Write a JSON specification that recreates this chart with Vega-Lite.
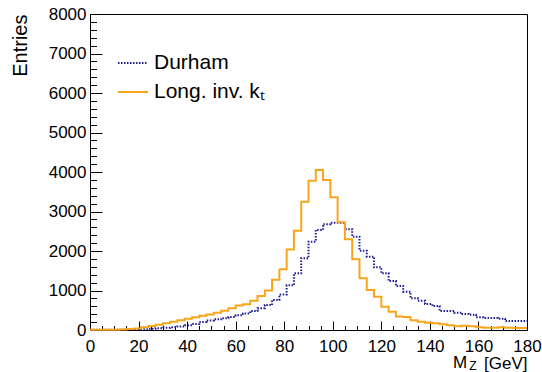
{
  "$schema": "https://vega.github.io/schema/vega-lite/v6.json",
  "width": 437,
  "height": 316,
  "autosize": {"type": "none"},
  "padding": {"left": 90, "top": 14, "right": 15, "bottom": 42},
  "background": "white",
  "config": {
    "font": "Liberation Sans",
    "view": {"stroke": "black", "strokeWidth": 1},
    "axis": {"domainColor": "black", "tickColor": "black", "labelColor": "black", "titleColor": "black", "grid": false, "labelFont": "Liberation Sans", "titleFont": "Liberation Sans", "titleFontWeight": "normal"}
  },
  "datasets": {
    "h": [
      {"m": 0, "v": 5, "s": "Durham"}, {"m": 3, "v": 5, "s": "Durham"}, {"m": 6, "v": 5, "s": "Durham"}, {"m": 9, "v": 5, "s": "Durham"},
      {"m": 12, "v": 8, "s": "Durham"}, {"m": 15, "v": 10, "s": "Durham"}, {"m": 18, "v": 15, "s": "Durham"}, {"m": 21, "v": 20, "s": "Durham"},
      {"m": 24, "v": 30, "s": "Durham"}, {"m": 27, "v": 45, "s": "Durham"}, {"m": 30, "v": 60, "s": "Durham"}, {"m": 33, "v": 70, "s": "Durham"},
      {"m": 36, "v": 90, "s": "Durham"}, {"m": 39, "v": 120, "s": "Durham"}, {"m": 42, "v": 150, "s": "Durham"}, {"m": 45, "v": 200, "s": "Durham"},
      {"m": 48, "v": 240, "s": "Durham"}, {"m": 51, "v": 270, "s": "Durham"}, {"m": 54, "v": 300, "s": "Durham"}, {"m": 57, "v": 330, "s": "Durham"},
      {"m": 60, "v": 375, "s": "Durham"}, {"m": 63, "v": 420, "s": "Durham"}, {"m": 66, "v": 480, "s": "Durham"}, {"m": 69, "v": 550, "s": "Durham"},
      {"m": 72, "v": 630, "s": "Durham"}, {"m": 75, "v": 760, "s": "Durham"}, {"m": 78, "v": 900, "s": "Durham"}, {"m": 81, "v": 1130, "s": "Durham"},
      {"m": 84, "v": 1435, "s": "Durham"}, {"m": 87, "v": 1815, "s": "Durham"}, {"m": 90, "v": 2236, "s": "Durham"}, {"m": 93, "v": 2532, "s": "Durham"},
      {"m": 96, "v": 2680, "s": "Durham"}, {"m": 99, "v": 2717, "s": "Durham"}, {"m": 102, "v": 2717, "s": "Durham"}, {"m": 105, "v": 2549, "s": "Durham"},
      {"m": 108, "v": 2363, "s": "Durham"}, {"m": 111, "v": 2008, "s": "Durham"}, {"m": 114, "v": 1857, "s": "Durham"}, {"m": 117, "v": 1586, "s": "Durham"},
      {"m": 120, "v": 1435, "s": "Durham"}, {"m": 123, "v": 1240, "s": "Durham"}, {"m": 126, "v": 1114, "s": "Durham"}, {"m": 129, "v": 970, "s": "Durham"},
      {"m": 132, "v": 802, "s": "Durham"}, {"m": 135, "v": 742, "s": "Durham"}, {"m": 138, "v": 658, "s": "Durham"}, {"m": 141, "v": 608, "s": "Durham"},
      {"m": 144, "v": 481, "s": "Durham"}, {"m": 147, "v": 481, "s": "Durham"}, {"m": 150, "v": 439, "s": "Durham"}, {"m": 153, "v": 405, "s": "Durham"},
      {"m": 156, "v": 388, "s": "Durham"}, {"m": 159, "v": 321, "s": "Durham"}, {"m": 162, "v": 304, "s": "Durham"}, {"m": 165, "v": 304, "s": "Durham"},
      {"m": 168, "v": 287, "s": "Durham"}, {"m": 171, "v": 228, "s": "Durham"}, {"m": 174, "v": 228, "s": "Durham"}, {"m": 177, "v": 228, "s": "Durham"},
      {"m": 180, "v": 228, "s": "Durham"},
      {"m": 0, "v": 5, "s": "Long. inv. kₜ"}, {"m": 3, "v": 5, "s": "Long. inv. kₜ"}, {"m": 6, "v": 5, "s": "Long. inv. kₜ"}, {"m": 9, "v": 8, "s": "Long. inv. kₜ"},
      {"m": 12, "v": 10, "s": "Long. inv. kₜ"}, {"m": 15, "v": 25, "s": "Long. inv. kₜ"}, {"m": 18, "v": 40, "s": "Long. inv. kₜ"}, {"m": 21, "v": 70, "s": "Long. inv. kₜ"},
      {"m": 24, "v": 100, "s": "Long. inv. kₜ"}, {"m": 27, "v": 130, "s": "Long. inv. kₜ"}, {"m": 30, "v": 170, "s": "Long. inv. kₜ"}, {"m": 33, "v": 210, "s": "Long. inv. kₜ"},
      {"m": 36, "v": 245, "s": "Long. inv. kₜ"}, {"m": 39, "v": 285, "s": "Long. inv. kₜ"}, {"m": 42, "v": 325, "s": "Long. inv. kₜ"}, {"m": 45, "v": 360, "s": "Long. inv. kₜ"},
      {"m": 48, "v": 390, "s": "Long. inv. kₜ"}, {"m": 51, "v": 435, "s": "Long. inv. kₜ"}, {"m": 54, "v": 490, "s": "Long. inv. kₜ"}, {"m": 57, "v": 550, "s": "Long. inv. kₜ"},
      {"m": 60, "v": 620, "s": "Long. inv. kₜ"}, {"m": 63, "v": 650, "s": "Long. inv. kₜ"}, {"m": 66, "v": 740, "s": "Long. inv. kₜ"}, {"m": 69, "v": 860, "s": "Long. inv. kₜ"},
      {"m": 72, "v": 1000, "s": "Long. inv. kₜ"}, {"m": 75, "v": 1270, "s": "Long. inv. kₜ"}, {"m": 78, "v": 1540, "s": "Long. inv. kₜ"}, {"m": 81, "v": 2040, "s": "Long. inv. kₜ"},
      {"m": 84, "v": 2510, "s": "Long. inv. kₜ"}, {"m": 87, "v": 3250, "s": "Long. inv. kₜ"}, {"m": 90, "v": 3780, "s": "Long. inv. kₜ"}, {"m": 93, "v": 4050, "s": "Long. inv. kₜ"},
      {"m": 96, "v": 3800, "s": "Long. inv. kₜ"}, {"m": 99, "v": 3360, "s": "Long. inv. kₜ"}, {"m": 102, "v": 2730, "s": "Long. inv. kₜ"}, {"m": 105, "v": 2300, "s": "Long. inv. kₜ"},
      {"m": 108, "v": 1790, "s": "Long. inv. kₜ"}, {"m": 111, "v": 1310, "s": "Long. inv. kₜ"}, {"m": 114, "v": 1010, "s": "Long. inv. kₜ"}, {"m": 117, "v": 840, "s": "Long. inv. kₜ"},
      {"m": 120, "v": 590, "s": "Long. inv. kₜ"}, {"m": 123, "v": 460, "s": "Long. inv. kₜ"}, {"m": 126, "v": 340, "s": "Long. inv. kₜ"}, {"m": 129, "v": 330, "s": "Long. inv. kₜ"},
      {"m": 132, "v": 245, "s": "Long. inv. kₜ"}, {"m": 135, "v": 210, "s": "Long. inv. kₜ"}, {"m": 138, "v": 185, "s": "Long. inv. kₜ"}, {"m": 141, "v": 170, "s": "Long. inv. kₜ"},
      {"m": 144, "v": 145, "s": "Long. inv. kₜ"}, {"m": 147, "v": 120, "s": "Long. inv. kₜ"}, {"m": 150, "v": 95, "s": "Long. inv. kₜ"}, {"m": 153, "v": 110, "s": "Long. inv. kₜ"},
      {"m": 156, "v": 95, "s": "Long. inv. kₜ"}, {"m": 159, "v": 70, "s": "Long. inv. kₜ"}, {"m": 162, "v": 60, "s": "Long. inv. kₜ"}, {"m": 165, "v": 60, "s": "Long. inv. kₜ"},
      {"m": 168, "v": 70, "s": "Long. inv. kₜ"}, {"m": 171, "v": 60, "s": "Long. inv. kₜ"}, {"m": 174, "v": 50, "s": "Long. inv. kₜ"}, {"m": 177, "v": 50, "s": "Long. inv. kₜ"},
      {"m": 180, "v": 50, "s": "Long. inv. kₜ"}
    ]
  },
  "layer": [
    {
      "data": {"name": "h"},
      "mark": {"type": "line", "strokeOpacity": 0},
      "encoding": {
        "x": {"field": "m", "type": "quantitative", "scale": {"domain": [0, 180], "nice": false, "zero": false},
          "axis": {"orient": "bottom", "values": [5,10,15,25,30,35,45,50,55,65,70,75,85,90,95,105,110,115,125,130,135,145,150,155,165,170,175], "labels": false, "tickSize": -4.5, "domain": false, "title": null}},
        "y": {"field": "v", "type": "quantitative", "scale": {"domain": [0, 8000], "nice": false},
          "axis": {"orient": "left", "values": [200,400,600,800,1200,1400,1600,1800,2200,2400,2600,2800,3200,3400,3600,3800,4200,4400,4600,4800,5200,5400,5600,5800,6200,6400,6600,6800,7200,7400,7600,7800], "labels": false, "tickSize": -6.5, "domain": false, "title": null}}
      }
    },
    {
      "data": {"name": "h"},
      "mark": {"type": "line", "interpolate": "step-after", "strokeWidth": 2},
      "encoding": {
        "x": {"field": "m", "type": "quantitative", "scale": {"domain": [0, 180], "nice": false, "zero": false},
          "axis": {"orient": "bottom", "values": [0,20,40,60,80,100,120,140,160,180], "format": "d", "tickSize": -9, "labelPadding": 17, "labelFontSize": 17, "labelFlush": false,
            "title": "[GeV]", "titleFontSize": 17, "titleAlign": "right", "titleAnchor": "end", "titleX": 437, "titleY": 38, "titleBaseline": "alphabetic"}},
        "y": {"field": "v", "type": "quantitative", "scale": {"domain": [0, 8000], "nice": false},
          "axis": {"orient": "left", "values": [0,1000,2000,3000,4000,5000,6000,7000,8000], "format": "d", "tickSize": -12, "labelPadding": 16, "labelFontSize": 17, "labelFlush": false,
            "title": "Entries", "titleFontSize": 20, "titleAngle": -90, "titleAlign": "right", "titleBaseline": "middle", "titleX": -70, "titleY": 0}},
        "color": {"field": "s", "type": "nominal", "title": null,
          "scale": {"domain": ["Durham", "Long. inv. kₜ"], "range": ["#1c1c94", "#f9a51a"]},
          "legend": {"orient": "none", "legendX": 27, "legendY": 33, "symbolType": "stroke", "symbolSize": 900, "symbolStrokeWidth": 2, "labelFontSize": 21, "labelFont": "Liberation Sans", "labelColor": "black", "rowPadding": 3, "labelOffset": 5, "labelLimit": 300}},
        "strokeDash": {"field": "s", "type": "nominal", "title": null,
          "scale": {"domain": ["Durham", "Long. inv. kₜ"], "range": [[1.5, 1.5], [1, 0]]}}
      }
    },
    {
      "data": {"values": [{}]},
      "mark": {"type": "text", "align": "left", "baseline": "alphabetic", "fontSize": 17, "font": "Liberation Sans", "color": "black"},
      "encoding": {
        "x": {"datum": 149.5, "type": "quantitative", "scale": {"domain": [0, 180], "nice": false, "zero": false}, "axis": null},
        "y": {"datum": -962, "type": "quantitative", "scale": {"domain": [0, 8000], "nice": false}, "axis": null},
        "text": {"value": "M"}
      }
    },
    {
      "data": {"values": [{}]},
      "mark": {"type": "text", "align": "left", "baseline": "alphabetic", "fontSize": 12, "font": "Liberation Sans", "color": "black"},
      "encoding": {
        "x": {"datum": 156.2, "type": "quantitative", "scale": {"domain": [0, 180], "nice": false, "zero": false}, "axis": null},
        "y": {"datum": -1010, "type": "quantitative", "scale": {"domain": [0, 8000], "nice": false}, "axis": null},
        "text": {"value": "Z"}
      }
    }
  ],
  "resolve": {"axis": {"x": "independent", "y": "independent"}}
}
